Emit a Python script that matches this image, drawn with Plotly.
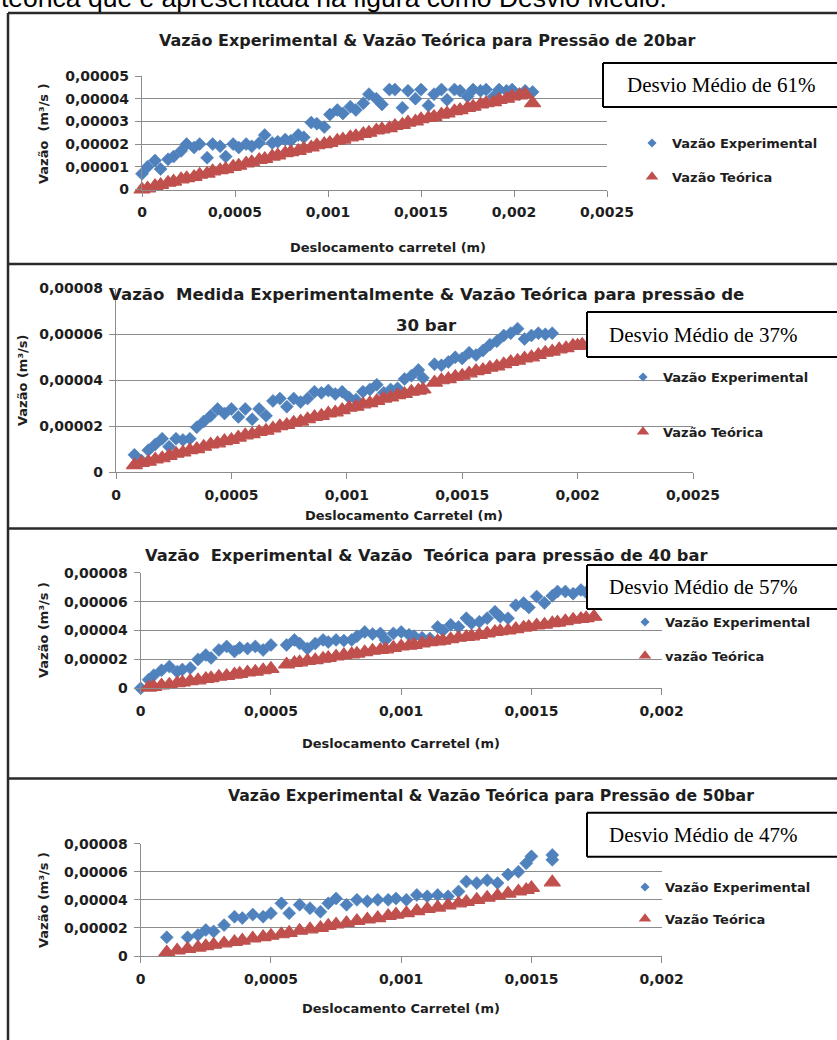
import plotly.graph_objects as go

W, H = 837, 1040

# ---------------- data ----------------
# displacement in units of 1e-3 m, flow in units of 1e-5 m3/s
X_UNIT = 1e-3
Q_UNIT = 1e-5

x_20bar = [0.00, 0.03, 0.07, 0.10, 0.14, 0.17, 0.21, 0.24, 0.28, 0.31,
           0.35, 0.38, 0.42, 0.45, 0.49, 0.52, 0.56, 0.59, 0.63, 0.66,
           0.70, 0.73, 0.77, 0.80, 0.84, 0.87, 0.91, 0.94, 0.98, 1.01,
           1.05, 1.08, 1.12, 1.15, 1.19, 1.22, 1.26, 1.29, 1.33, 1.36,
           1.40, 1.43, 1.47, 1.50, 1.54, 1.57, 1.61, 1.64, 1.68, 1.71,
           1.75, 1.78, 1.82, 1.85, 1.89, 1.92, 1.96, 1.99, 2.03, 2.06,
           2.10]
exp_20bar = [0.69, 1.0, 1.28, 0.9, 1.33, 1.45, 1.7, 2.0, 1.85, 2.0,
             1.4, 2.0, 1.9, 1.45, 2.0, 1.85, 2.0, 1.9, 2.05, 2.4,
             2.05, 2.1, 2.2, 2.15, 2.4, 2.3, 2.95, 2.9, 2.75, 3.3,
             3.5, 3.35, 3.65, 3.5, 3.8, 4.2, 4.0, 3.75, 4.4, 4.4,
             3.6, 4.35, 4.0, 4.4, 3.7, 4.2, 4.4, 3.95, 4.4, 4.35,
             4.1, 4.4, 4.35, 4.4, 4.1, 4.4, 4.35, 4.4, 4.2, 4.35,
             4.3]
teo_20bar = [0.0, 0.05, 0.15, 0.2, 0.3, 0.35, 0.45, 0.5, 0.55, 0.65,
             0.7, 0.8, 0.85, 0.9, 1.0, 1.05, 1.15, 1.2, 1.3, 1.35,
             1.45, 1.5, 1.6, 1.65, 1.7, 1.8, 1.85, 1.95, 2.0, 2.05,
             2.15, 2.2, 2.3, 2.35, 2.45, 2.5, 2.6, 2.65, 2.7, 2.8,
             2.85, 2.95, 3.0, 3.1, 3.15, 3.2, 3.3, 3.35, 3.45, 3.5,
             3.6, 3.65, 3.75, 3.8, 3.85, 3.95, 4.0, 4.1, 4.15, 4.2,
             3.8]

x_30bar = [0.08, 0.11, 0.14, 0.17, 0.20, 0.23, 0.26, 0.29, 0.32, 0.35,
           0.38, 0.41, 0.44, 0.47, 0.50, 0.53, 0.56, 0.59, 0.62, 0.65,
           0.68, 0.71, 0.74, 0.77, 0.80, 0.83, 0.86, 0.89, 0.92, 0.95,
           0.98, 1.01, 1.04, 1.07, 1.10, 1.13, 1.16, 1.19, 1.22, 1.25,
           1.28, 1.31, 1.33,
           1.38, 1.41, 1.44, 1.47, 1.50, 1.53, 1.56,
           1.59, 1.62, 1.65, 1.68, 1.71, 1.74, 1.77, 1.80, 1.83, 1.86,
           1.89, 1.92, 1.95, 1.98, 2.00, 2.02]
exp_30bar = [0.75, 0.5, 0.95, 1.2, 1.45, 1.1, 1.45, 1.4, 1.45, 1.95,
             2.2, 2.45, 2.75, 2.55, 2.75, 2.4, 2.75, 2.3, 2.75, 2.45,
             3.1, 3.2, 2.85, 3.2, 3.05, 3.2, 3.5, 3.45, 3.55, 3.4,
             3.5, 3.25, 3.15, 3.5, 3.6, 3.8, 3.45, 3.6, 3.65, 4.05,
             4.2, 4.45, 4.1,
             4.7, 4.65, 4.8, 5.0, 4.95, 5.2, 5.1,
             5.3, 5.55, 5.7, 5.95, 6.05, 6.25, 5.8, 5.95, 6.05, 6.0,
             6.05, None, None, None, None, None]
teo_30bar = [0.3, 0.4, 0.45, 0.55, 0.6, 0.7, 0.8, 0.85, 0.95, 1.0,
             1.1, 1.2, 1.25, 1.35, 1.4, 1.5, 1.6, 1.65, 1.75, 1.8,
             1.9, 2.0, 2.05, 2.15, 2.2, 2.3, 2.4, 2.45, 2.55, 2.6,
             2.7, 2.8, 2.85, 2.95, 3.0, 3.1, 3.2, 3.25, 3.35, 3.4,
             3.5, 3.55, 3.6,
             3.9, 4.0, 4.05, 4.15, 4.2, 4.3, 4.4,
             4.45, 4.55, 4.6, 4.7, 4.8, 4.85, 4.95, 5.0, 5.1, 5.2,
             5.25, 5.35, 5.4, 5.5, 5.5, 5.55]

x_40bar = [0.00, 0.03, 0.05, 0.08, 0.11, 0.14, 0.16, 0.19, 0.22, 0.25,
           0.27, 0.30, 0.33, 0.36, 0.38, 0.41, 0.44, 0.47, 0.50,
           0.56, 0.59, 0.61, 0.64, 0.67, 0.70, 0.72, 0.75, 0.78, 0.81,
           0.83, 0.86, 0.89, 0.92, 0.94, 0.97, 1.00, 1.03, 1.05, 1.08,
           1.11, 1.14, 1.16, 1.19, 1.22, 1.25, 1.27, 1.30, 1.33, 1.36,
           1.38, 1.41, 1.44, 1.47, 1.49, 1.52, 1.55, 1.58, 1.60, 1.63,
           1.66, 1.69, 1.71, 1.74]
exp_40bar = [0.0, 0.6, 0.9, 1.25, 1.5, 1.15, 1.3, 1.4, 2.0, 2.3,
             2.1, 2.65, 2.9, 2.55, 2.8, 2.75, 2.9, 2.65, 3.0,
             3.0, 3.35, 3.1, 2.75, 3.1, 3.35, 3.2, 3.35, 3.3, 3.35,
             3.6, 3.9, 3.75, 3.8, 3.35, 3.8, 3.9, 3.7, 3.6, 3.5,
             3.45, 4.25, 4.0, 4.4, 4.25, 4.85, 4.5, 4.6, 4.85, 5.3,
             4.95, 4.85, 5.75, 5.9, 5.6, 6.35, 5.9, 6.4, 6.7, 6.7,
             6.55, 6.8, 6.65, None]
teo_40bar = [None, 0.05, 0.1, 0.2, 0.25, 0.35, 0.4, 0.5, 0.55, 0.65,
             0.7, 0.8, 0.85, 0.95, 1.0, 1.1, 1.15, 1.25, 1.35,
             1.65, 1.75, 1.8, 1.9, 1.95, 2.05, 2.1, 2.2, 2.3, 2.35,
             2.4, 2.5, 2.6, 2.65, 2.7, 2.8, 2.9, 2.95, 3.0, 3.1,
             3.2, 3.25, 3.3, 3.4, 3.5, 3.55, 3.6, 3.7, 3.8, 3.9,
             3.95, 4.0, 4.1, 4.2, 4.25, 4.35, 4.4, 4.5, 4.55, 4.65,
             4.75, 4.8, 4.85, 4.95]

x_50bar = [0.10, 0.14, 0.18, 0.22, 0.25, 0.28, 0.32, 0.36, 0.39, 0.43, 0.47, 0.50,
           0.54, 0.57, 0.61, 0.65, 0.69, 0.72, 0.75, 0.79, 0.83, 0.87, 0.91, 0.95, 0.98,
           1.02, 1.06, 1.10, 1.14, 1.18, 1.22, 1.25, 1.29, 1.33, 1.37, 1.41, 1.45, 1.48, 1.50,
           1.58, 1.58]
exp_50bar = [1.33, -0.1, 1.33, 1.5, 1.85, 1.75, 2.2, 2.8, 2.7, 2.95, 2.8, 3.05,
             3.75, 3.05, 3.65, 3.4, 3.15, 3.75, 4.1, 3.65, 4.0, 3.9, 4.0, 4.0, 4.1,
             4.0, 4.35, 4.25, 4.35, 4.25, 4.6, 5.3, 5.2, 5.4, 5.2, 5.8, 6.0, 6.6, 7.1,
             7.2, 6.85]
teo_50bar = [0.25, 0.4, 0.5, 0.6, 0.7, 0.8, 0.9, 1.0, 1.1, 1.25, 1.35, 1.45,
             1.55, 1.65, 1.8, 1.9, 2.0, 2.15, 2.25, 2.35, 2.5, 2.6, 2.7, 2.85, 2.95,
             3.05, 3.2, 3.35, 3.45, 3.6, 3.75, 3.85, 4.0, 4.15, 4.3, 4.45, 4.6, 4.7, 4.85,
             5.25, None]

# tick values / labels
x_ticks_25 = [0, 0.0005, 0.001, 0.0015, 0.002, 0.0025]
x_labels_25 = ["0", "0,0005", "0,001", "0,0015", "0,002", "0,0025"]
x_ticks_20 = [0, 0.0005, 0.001, 0.0015, 0.002]
x_labels_20 = ["0", "0,0005", "0,001", "0,0015", "0,002"]
y_ticks_5 = [0, 0.00001, 0.00002, 0.00003, 0.00004, 0.00005]
y_labels_5 = ["0", "0,00001", "0,00002", "0,00003", "0,00004", "0,00005"]
y_ticks_8 = [0, 0.00002, 0.00004, 0.00006, 0.00008]
y_labels_8 = ["0", "0,00002", "0,00004", "0,00006", "0,00008"]

titles = [
    ["Vazão Experimental & Vazão Teórica para Pressão de 20bar"],
    ["Vazão\u00a0 Medida Experimentalmente & Vazão Teórica para pressão de", "30 bar"],
    ["Vazão\u00a0 Experimental & Vazão\u00a0 Teórica para pressão de 40 bar"],
    ["Vazão Experimental & Vazão Teórica para Pressão de 50bar"],
]
x_titles = ["Deslocamento carretel (m)", "Deslocamento Carretel (m)",
            "Deslocamento Carretel (m)", "Deslocamento Carretel (m)"]
y_titles = ["Vazão\u00a0 (m³/s )", "Vazão (m³/s)", "Vazão (m³/s )", "Vazão (m³/s )"]
exp_names = ["Vazão Experimental"] * 4
teo_names = ["Vazão Teórica", "Vazão Teórica", "vazão Teórica", "Vazão Teórica"]
desvios = ["Desvio Médio de 61%", "Desvio Médio de 37%", "Desvio Médio de 57%", "Desvio Médio de 47%"]
top_text = "teórica que é apresentada na figura como Desvio Médio."

series = [
    (x_20bar, exp_20bar, teo_20bar),
    (x_30bar, exp_30bar, teo_30bar),
    (x_40bar, exp_40bar, teo_40bar),
    (x_50bar, exp_50bar, teo_50bar),
]

# ---------------- layout geometry (pixels) ----------------
geo = [
    dict(x0=142, x1=607, yt=76, yb=189.5, xr=0.0025, yr=0.00005, xt=(x_ticks_25, x_labels_25),
         yt_=(y_ticks_5, y_labels_5), title_y=[41], title_x=427, title_size=16, xtitle=(388, 247),
         ytitle=(43, 134), box=(603, 63, 107), box_tx=625, leg=(632, 143, 178)),
    dict(x0=116, x1=693, yt=288.5, yb=472, xr=0.0025, yr=0.00008, xt=(x_ticks_25, x_labels_25),
         yt_=(y_ticks_8, y_labels_8), title_y=[294, 325], title_x=426, title_size=16.6, xtitle=(404, 515),
         ytitle=(22, 380), box=(587, 312, 357), box_tx=607, leg=(623, 377, 433)),
    dict(x0=140.7, x1=661.7, yt=572.7, yb=688.3, xr=0.002, yr=0.00008, xt=(x_ticks_20, x_labels_20),
         yt_=(y_ticks_8, y_labels_8), title_y=[555], title_x=426, title_size=16.3, xtitle=(401, 743),
         ytitle=(43, 630), box=(587, 565, 609), box_tx=607, leg=(625, 622, 657)),
    dict(x0=140.7, x1=661.7, yt=843.7, yb=956, xr=0.002, yr=0.00008, xt=(x_ticks_20, x_labels_20),
         yt_=(y_ticks_8, y_labels_8), title_y=[795], title_x=491, title_size=15.7, xtitle=(401, 1008),
         ytitle=(43, 900), box=(587, 812.7, 856.7), box_tx=607, leg=(625, 887, 920)),
]


def px(x):
    return x / W


def py(y):
    return 1 - y / H


FONT = "DejaVu Sans"
TXT = "#1e1e1e"
GRID = "#8c8c8c"
BLUE = "#4F81BD"
RED = "#C0504D"
BORDER = "#2a2a2a"

fig = go.Figure()
annotations = []
shapes = []
layout_extra = {}


def hline(x0, x1, y, color, width):
    return dict(type="line", xref="paper", yref="paper", x0=px(x0), x1=px(x1), y0=py(y), y1=py(y),
                line=dict(color=color, width=width), layer="above")


def vline(x, y0, y1, color, width):
    return dict(type="line", xref="paper", yref="paper", x0=px(x), x1=px(x), y0=py(y0), y1=py(y1),
                line=dict(color=color, width=width), layer="above")


for i, ((xs, ex, te), g) in enumerate(zip(series, geo)):
    n = i + 1
    xa = "x" if n == 1 else f"x{n}"
    ya = "y" if n == 1 else f"y{n}"
    leg = "legend" if n == 1 else f"legend{n}"
    xv = [v * X_UNIT for v in xs]
    fig.add_trace(go.Scatter(
        x=xv, y=[None if v is None else v * Q_UNIT for v in ex], mode="markers",
        name=exp_names[i], xaxis=xa, yaxis=ya, showlegend=False, legendgroup=f"e{n}",
        cliponaxis=False,
        marker=dict(symbol="diamond", size=10, color=BLUE, line=dict(width=0.6, color=BLUE)),
    ))
    fig.add_trace(go.Scatter(
        x=xv, y=[None if v is None else v * Q_UNIT for v in te], mode="markers",
        name=teo_names[i], xaxis=xa, yaxis=ya, showlegend=False, legendgroup=f"t{n}",
        cliponaxis=False,
        marker=dict(symbol="triangle-up", size=14, color=RED, line=dict(width=1.2, color=RED)),
    ))
    # legend entries (small legend symbols like the Excel legend)
    fig.add_trace(go.Scatter(
        x=[None], y=[None], mode="markers", name=exp_names[i], xaxis=xa, yaxis=ya,
        legend=leg, legendgroup=f"e{n}",
        marker=dict(symbol="diamond", size=7, color=BLUE)))
    fig.add_trace(go.Scatter(
        x=[None], y=[None], mode="markers", name=teo_names[i], xaxis=xa, yaxis=ya,
        legend=leg, legendgroup=f"t{n}",
        marker=dict(symbol="triangle-up", size=11, color=RED)))
    axis_common = dict(
        showline=True, linecolor=GRID, linewidth=1.3, ticks="outside", ticklen=6,
        tickwidth=1.3, tickcolor=GRID, zeroline=False, automargin=False,
        tickfont=dict(family=FONT, size=14, color=TXT, weight="bold"),
    )
    layout_extra[f"xaxis{'' if n == 1 else n}"] = dict(
        domain=[px(g["x0"]), px(g["x1"])], range=[0, g["xr"]], anchor=ya,
        tickvals=g["xt"][0], ticktext=g["xt"][1], showgrid=False,
        ticklabelstandoff=4, **axis_common)
    layout_extra[f"yaxis{'' if n == 1 else n}"] = dict(
        domain=[py(g["yb"]), py(g["yt"])], range=[0, g["yr"]], anchor=xa,
        tickvals=g["yt_"][0], ticktext=g["yt_"][1], showgrid=True, gridcolor=GRID,
        gridwidth=1.3, ticklabelstandoff=3, **axis_common)
    # legend
    lx, ly1, ly2 = g["leg"]
    layout_extra[leg] = dict(
        x=px(lx), y=py(ly1 - 15), xanchor="left", yanchor="top",
        bgcolor="rgba(0,0,0,0)", traceorder="grouped",
        tracegroupgap=(ly2 - ly1) - 21, itemsizing="trace",
        font=dict(family=FONT, size=13, color=TXT, weight="bold"),
    )
    # chart title
    for line, ty in zip(titles[i], g["title_y"]):
        annotations.append(dict(
            text=line, x=px(g["title_x"]), y=py(ty), xref="paper", yref="paper",
            xanchor="center", yanchor="middle", showarrow=False,
            font=dict(family=FONT, size=g["title_size"], color=TXT, weight="bold")))
    # axis titles
    annotations.append(dict(
        text=x_titles[i], x=px(g["xtitle"][0]), y=py(g["xtitle"][1]), xref="paper", yref="paper",
        xanchor="center", yanchor="middle", showarrow=False,
        font=dict(family=FONT, size=13, color=TXT, weight="bold")))
    annotations.append(dict(
        text=y_titles[i], x=px(g["ytitle"][0]), y=py(g["ytitle"][1]), xref="paper", yref="paper",
        xanchor="center", yanchor="middle", showarrow=False, textangle=-90,
        font=dict(family=FONT, size=13, color=TXT, weight="bold")))
    # "Desvio Médio" text box (runs off the right edge of the page)
    bx0, by0, by1 = g["box"]
    shapes.append(dict(type="rect", xref="paper", yref="paper",
                       x0=px(bx0), x1=1, y0=py(by1), y1=py(by0),
                       line=dict(width=0), fillcolor="white", layer="above"))
    shapes.append(hline(bx0, W, by0, "#000000", 2))
    shapes.append(hline(bx0, W, by1, "#000000", 2))
    shapes.append(vline(bx0, by0, by1, "#000000", 2))
    annotations.append(dict(
        text=desvios[i], x=px(g["box_tx"]), y=py((by0 + by1) / 2), xref="paper", yref="paper",
        xanchor="left", yanchor="middle", showarrow=False,
        font=dict(family="Liberation Serif", size=21, color="#000000")))

# surrounding table lines (kept inside the page)
shapes.append(vline(8, 13, H, BORDER, 2.5))
for yl in [13, 264, 528.5, 778.5]:
    shapes.append(hline(8, W, yl, BORDER, 2.5))

# partially visible line of document text above the figure
annotations.append(dict(
    text=top_text, x=px(-1), y=py(-2), xref="paper", yref="paper",
    xanchor="left", yanchor="middle", showarrow=False,
    font=dict(family="Liberation Sans", size=26.5, color="#000000")))

fig.update_layout(
    width=W, height=H, margin=dict(l=0, r=0, t=0, b=0, pad=0, autoexpand=False),
    paper_bgcolor="white", plot_bgcolor="white",
    showlegend=True, annotations=annotations, shapes=shapes,
    **layout_extra,
)

# remove the default page margin synchronously (while the page is parsed),
# so the page is exactly the size of the figure
PAGE_FIX = ("}); document.documentElement.style.margin='0';"
            "document.body.style.margin='0';document.body.style.padding='0';"
            "document.documentElement.style.overflow='hidden';document.body.style.overflow='hidden';"
            "(function(){")

fig.write_html("out.html", config={"displayModeBar": False, "responsive": False},
               post_script=PAGE_FIX)
